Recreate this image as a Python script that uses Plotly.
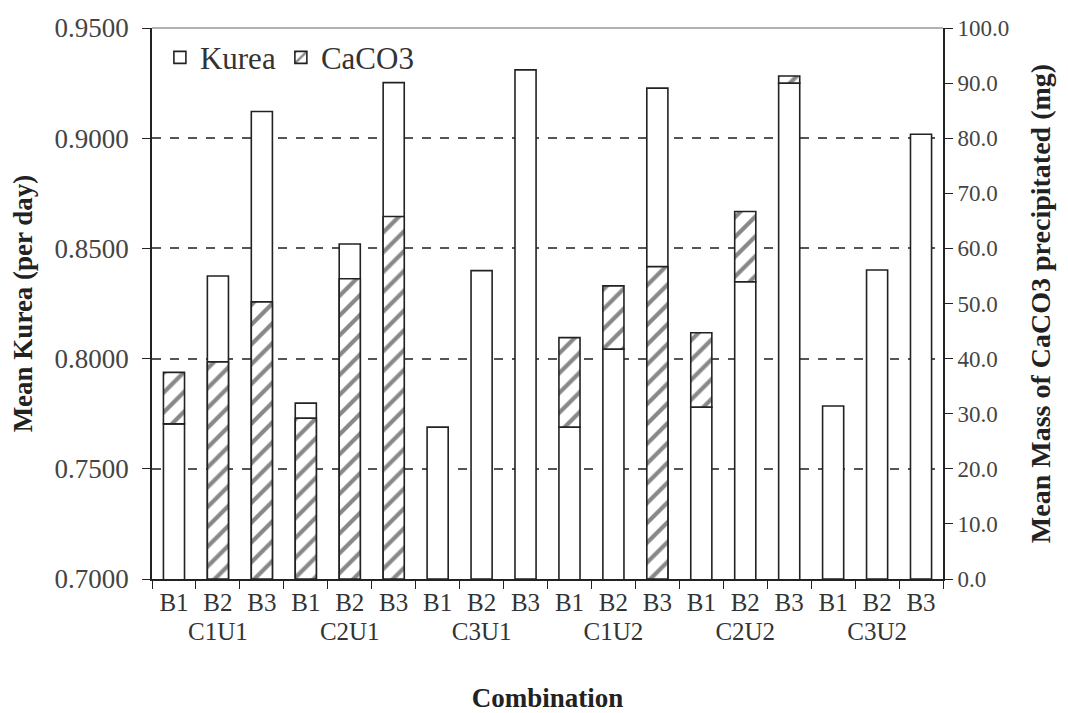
import plotly.graph_objects as go

# ---- data ----
groups = ["C1U1", "C2U1", "C3U1", "C1U2", "C2U2", "C3U2"]
subs = ["B1", "B2", "B3"]
kurea = [0.7704, 0.8375, 0.9121,
         0.7798, 0.8520, 0.9252,
         0.7689, 0.8399, 0.9310,
         0.7689, 0.8043, 0.9227,
         0.7780, 0.8349, 0.9250,
         0.7785, 0.8402, 0.9018]
caco3 = [37.5, 39.4, 50.3,
         29.2, 54.5, 65.8,
         0.0, 0.0, 0.0,
         43.8, 53.2, 56.7,
         44.7, 66.7, 91.3,
         0.0, 0.0, 0.0]

y_range = [0.70, 0.95]
y2_range = [0.0, 100.0]

x_groups = [g for g in groups for _ in subs]
x_subs = [s for _ in groups for s in subs]

# Kurea expressed on the secondary scale: where CaCO3 is taller, the white bar hides its lower part
kurea_on_y2 = [(k - y_range[0]) / (y_range[1] - y_range[0]) * (y2_range[1] - y2_range[0]) for k in kurea]
hatch_base = [kmg if c > kmg else 0.0 for kmg, c in zip(kurea_on_y2, caco3)]
hatch_len = [c - b for c, b in zip(caco3, hatch_base)]

FONT = "Liberation Serif"

fig = go.Figure()
fig.add_trace(go.Bar(
    x=[x_groups, x_subs], y=kurea, name="Kurea", yaxis="y",
    width=0.48,
    marker=dict(color="white", line=dict(color="#222", width=1.6)),
))
fig.add_trace(go.Bar(
    x=[x_groups, x_subs], y=hatch_len, base=hatch_base, name="CaCO3", yaxis="y2",
    width=0.48,
    marker=dict(color="white", line=dict(color="#222", width=1.6),
                pattern=dict(shape="/", fgcolor="#111", bgcolor="white", size=14, solidity=0.3)),
))

fig.update_layout(
    width=1068, height=713,
    margin=dict(l=152, r=125, t=28, b=134),
    paper_bgcolor="white", plot_bgcolor="white",
    barmode="overlay",
    font=dict(family=FONT, color="#333", size=24),
    showlegend=True,
    legend=dict(orientation="h", x=0.01, y=0.995, xanchor="left", yanchor="top",
                font=dict(family=FONT, size=31, color="#333"),
                bgcolor="rgba(0,0,0,0)", itemwidth=30, tracegroupgap=0),
    xaxis=dict(
        type="multicategory", showdividers=False, automargin=False,
        showline=True, linecolor="#222", linewidth=1.6,
        ticks="outside", ticklen=8, tickcolor="#222", tickson="boundaries",
        tickfont=dict(family=FONT, size=25, color="#333"),
        title=dict(text="<b>Combination</b>", font=dict(family=FONT, size=27, color="#222"), standoff=44),
    ),
    yaxis=dict(
        range=y_range, dtick=0.05, tickformat=".4f", automargin=False,
        showline=True, linecolor="#222", linewidth=1.6,
        ticks="outside", ticklen=8, tickcolor="#222", ticklabelstandoff=8,
        showgrid=True, gridcolor="#555", griddash="dash", gridwidth=1.5,
        zeroline=False,
        tickfont=dict(family=FONT, size=27, color="#444"),
        title=dict(text="<b>Mean Kurea (per day)</b>", font=dict(family=FONT, size=27, color="#222"), standoff=14),
    ),
    yaxis2=dict(
        range=y2_range, dtick=10, tickformat=".1f", automargin=False,
        overlaying="y", side="right", anchor="x",
        showline=True, linecolor="#222", linewidth=1.6,
        ticks="outside", ticklen=8, tickcolor="#222",
        showgrid=False, zeroline=False,
        tickfont=dict(family=FONT, size=23, color="#444"),
        title=dict(text="<b>Mean Mass of CaCO3 precipitated (mg)</b>", font=dict(family=FONT, size=28, color="#222"), standoff=22),
    ),
    shapes=[dict(type="line", xref="paper", yref="paper", x0=0, x1=1, y0=1, y1=1,
                 line=dict(color="#999", width=1.5), layer="above")],
)

fig.write_html("out.html")
